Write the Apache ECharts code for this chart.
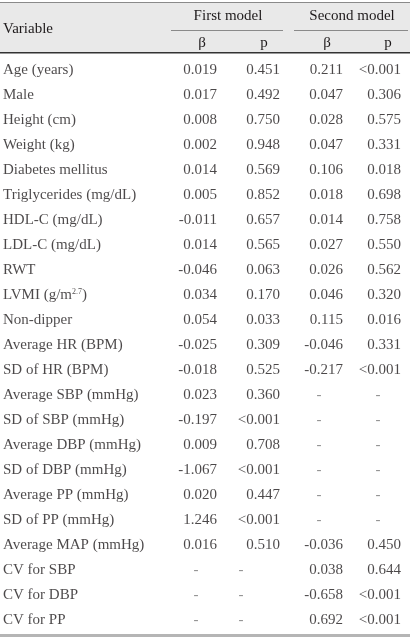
<!DOCTYPE html>
<html>
<head>
<meta charset="utf-8">
<script src="https://cdn.jsdelivr.net/npm/echarts@6/dist/echarts.min.js"></script>
<style>
html,body{margin:0;padding:0;background:#fff;}
#chart{width:410px;height:639px;}
</style>
</head>
<body>
<div id="chart"></div>
<script>
const variables = ['Age (years)','Male','Height (cm)','Weight (kg)','Diabetes mellitus','Triglycerides (mg/dL)','HDL-C (mg/dL)','LDL-C (mg/dL)','RWT','LVMI (g/m{sup|2.7})','Non-dipper','Average HR (BPM)','SD of HR (BPM)','Average SBP (mmHg)','SD of SBP (mmHg)','Average DBP (mmHg)','SD of DBP (mmHg)','Average PP (mmHg)','SD of PP (mmHg)','Average MAP (mmHg)','CV for SBP','CV for DBP','CV for PP'];
const firstBeta = ['0.019','0.017','0.008','0.002','0.014','0.005','-0.011','0.014','-0.046','0.034','0.054','-0.025','-0.018','0.023','-0.197','0.009','-1.067','0.020','1.246','0.016','-','-','-'];
const firstP = ['0.451','0.492','0.750','0.948','0.569','0.852','0.657','0.565','0.063','0.170','0.033','0.309','0.525','0.360','<0.001','0.708','<0.001','0.447','<0.001','0.510','-','-','-'];
const secondBeta = ['0.211','0.047','0.028','0.047','0.106','0.018','0.014','0.027','0.026','0.046','0.115','-0.046','-0.217','-','-','-','-','-','-','-0.036','0.038','-0.658','0.692'];
const secondP = ['<0.001','0.306','0.575','0.331','0.018','0.698','0.758','0.550','0.562','0.320','0.016','0.331','<0.001','-','-','-','-','-','-','0.450','0.644','<0.001','<0.001'];
const groupHeaders = ['First model','Second model'];
const colHeaders = ['β','p','β','p'];

const FONT = '"Liberation Serif", "DejaVu Serif", serif';
const TXT = '#1e1a1b';
const FS = 15;

// layout (pixel positions of the columns on the 0..410 x scale)
const colRight = [217, 280, 343, 401];
const dashX = [196, 241, 319, 378];
const headX = [202, 264, 327, 388];

function colSeries(vals, k) {
  return {
    type: 'scatter',
    symbolSize: 0,
    silent: true,
    data: vals.map((v, i) => {
      const dash = v === '-';
      return {
        value: [dash ? dashX[k] : colRight[k], i, v],
        label: dash ? {position: 'inside', color: '#777'} : {position: 'left', distance: 0}
      };
    }),
    label: {
      show: true,
      formatter: p => p.value[2],
      fontFamily: FONT, fontSize: FS, color: TXT
    }
  };
}

const series = [
  {
    type: 'scatter', symbolSize: 0, silent: true,
    data: variables.map((v, i) => [3, i, v]),
    label: {
      show: true, position: 'right', distance: 0,
      formatter: p => p.value[2],
      fontFamily: FONT, fontSize: FS, color: TXT,
      rich: {
        sup: {fontFamily: FONT, fontSize: 8, color: TXT, verticalAlign: 'top', padding: [0, 0, 7, 0]}
      }
    }
  },
  colSeries(firstBeta, 0),
  colSeries(firstP, 1),
  colSeries(secondBeta, 2),
  colSeries(secondP, 3)
];

const txt = (s, x, y, align) => ({
  type: 'text', x: x, y: y, silent: true,
  style: {text: s, fontFamily: FONT, fontSize: FS, fill: TXT, align: align, verticalAlign: 'middle'}
});

const graphic = [
  {type: 'rect', shape: {x: 0, y: 2, width: 410, height: 50}, style: {fill: '#e9e9e9'}, silent: true, z: -10},
  {type: 'rect', shape: {x: 0, y: 2, width: 410, height: 1}, style: {fill: '#8a8a8a'}, silent: true},
  {type: 'rect', shape: {x: 0, y: 52, width: 410, height: 1.5}, style: {fill: '#333'}, silent: true},
  {type: 'rect', shape: {x: 171, y: 30, width: 112, height: 1}, style: {fill: '#8a8a8a'}, silent: true},
  {type: 'rect', shape: {x: 294, y: 30, width: 114, height: 1}, style: {fill: '#8a8a8a'}, silent: true},
  {type: 'rect', shape: {x: 0, y: 634, width: 410, height: 3}, style: {fill: '#b5b5b5'}, silent: true},
  txt('Variable', 3, 29, 'left'),
  txt(groupHeaders[0], 228, 16, 'center'),
  txt(groupHeaders[1], 352, 16, 'center'),
  txt(colHeaders[0], headX[0], 43, 'center'),
  txt(colHeaders[1], headX[1], 43, 'center'),
  txt(colHeaders[2], headX[2], 43, 'center'),
  txt(colHeaders[3], headX[3], 43, 'center')
];

const chart = echarts.init(document.getElementById('chart'), null, {renderer: 'canvas'});
chart.setOption({
  animation: false,
  backgroundColor: '#fff',
  grid: {left: 0, right: 0, top: 57.5, bottom: 6.5},
  xAxis: {type: 'value', min: 0, max: 410, show: false},
  yAxis: {type: 'category', data: variables.map((v, i) => i), inverse: true, show: false},
  graphic: graphic,
  series: series
});
</script>
</body>
</html>
